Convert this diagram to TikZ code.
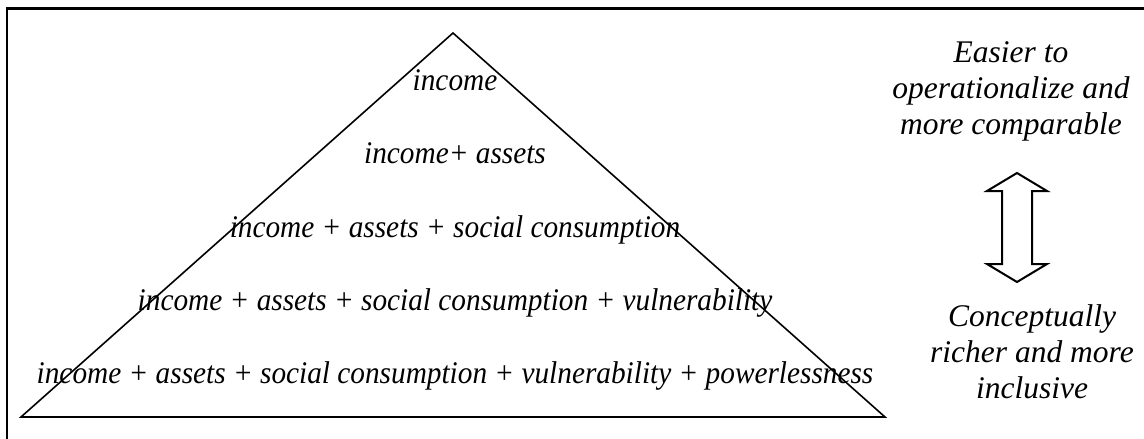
\documentclass[tikz,border=0pt]{standalone}
\usepackage{fontspec}
\setmainfont{Liberation Serif}
\newfontfamily\pyrfont[FakeStretch=0.93]{Liberation Serif}
\begin{document}
\begin{tikzpicture}[x=1pt,y=-1pt,
  level/.style={anchor=base,inner sep=0pt,
    font=\pyrfont\itshape\fontsize{31.5}{36}\selectfont},
  side/.style={anchor=base,inner sep=0pt,align=center,
    font=\itshape\fontsize{31.5}{36}\selectfont},
  outline/.style={draw=black,line width=1.6pt,line join=miter}]
\useasboundingbox (0,0) rectangle (1144,439);
% frame
\draw[line width=2.6pt] (7,439) -- (7,8.7) -- (1144,8.7);
% pyramid
\coordinate (apex) at (453,33);
\coordinate (bl) at (21,417);
\coordinate (br) at (885,417);
\draw[outline] (apex) -- (bl) -- (br) -- cycle;
% levels of the pyramid
\node[level] (l1) at (455,90) {income};
\node[level] (l2) at (455,163) {income+ assets};
\node[level] (l3) at (455,237) {income + assets + social consumption};
\node[level] (l4) at (455,310) {income + assets + social consumption + vulnerability};
\node[level] (l5) at (455,383) {income + assets + social consumption + vulnerability + powerlessness};
% side notes (anchored at the baseline of their last line)
\node[side] (top) at (1011,134) {Easier to\\operationalize and\\more comparable};
\node[side] (bot) at (1032,398) {Conceptually\\richer and more\\inclusive};
% double-headed block arrow
\draw[outline,line width=2pt]
  (1017,173) -- (1047,191) -- (1032,191) -- (1032,264) -- (1047,264)
  -- (1017,282) -- (987,264) -- (1002,264) -- (1002,191) -- (987,191) -- cycle;
\end{tikzpicture}
\end{document}
